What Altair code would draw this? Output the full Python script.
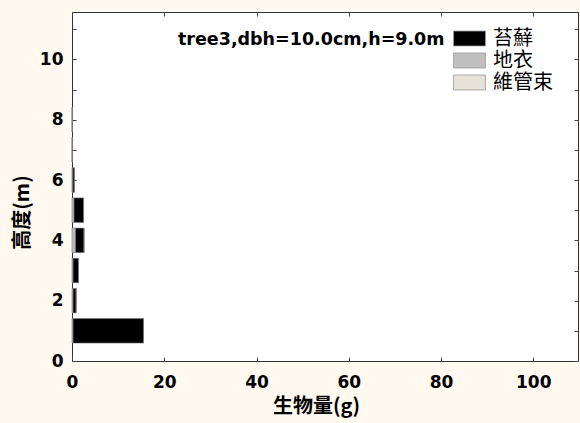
import altair as alt
import pandas as pd

# Biomass of epiphytes by height class along the stem of tree3
heights = [1, 2, 3, 4, 5, 6, 7, 8]
moss = [15.3, 0.7, 1.2, 1.9, 2.1, 0.4, 0.05, 0.05]       # 苔蘚
lichen = [0.2, 0.2, 0.2, 0.7, 0.4, 0.1, 0.05, 0.05]      # 地衣
vascular = [0.0, 0.0, 0.0, 0.0, 0.0, 0.0, 0.0, 0.0]      # 維管束

groups = ["苔蘚", "地衣", "維管束"]
stack_order = {"地衣": 0, "苔蘚": 1, "維管束": 2}
colors = ["#000000", "#c0c0c0", "#e6e2d8"]

x_ticks = [0, 20, 40, 60, 80, 100]
y_labels = [0, 2, 4, 6, 8, 10]
y_ticks = list(range(0, 12))

rows = []
for name, vals in zip(groups, [moss, lichen, vascular]):
    for h, v in zip(heights, vals):
        rows.append({"h": h, "group": name, "value": v, "ord": stack_order[name]})
df = pd.DataFrame(rows)

W, H = 506, 349
x_scale = alt.Scale(domain=[0, 109.7], nice=False, zero=True, padding=0)
y_scale = alt.Scale(domain=[0, 11.57], nice=False, padding=0)

tick_font = "DejaVu Sans"
cjk_font = "Noto Sans CJK TC"

legend = alt.Legend(
    title="tree3,dbh=10.0cm,h=9.0m",
    orient="none",
    legendX=106,
    legendY=15,
    titleOrient="left",
    titleAnchor="start",
    titleBaseline="line-top",
    titleLineHeight=26,
    titleFont=tick_font,
    titleFontSize=17.5,
    titleFontWeight="bold",
    titleColor="black",
    titleLimit=400,
    titlePadding=13,
    symbolType="M-1.45,-0.68H1.45V0.68H-1.45Z",
    symbolSize=484,
    symbolStrokeWidth=0.8,
    symbolStrokeColor="#999999",
    symbolOpacity=1,
    labelFont=cjk_font,
    labelFontSize=20,
    labelColor="black",
    labelOffset=12,
    rowPadding=0,
    padding=0,
)

base = alt.Chart(df)

bars = base.mark_bar(
    orient="horizontal", size=24.5, stroke="#777777", strokeWidth=0.6
).encode(
    x=alt.X(
        "value:Q",
        stack="zero",
        scale=x_scale,
        title="生物量(g)",
        axis=alt.Axis(
            values=x_ticks,
            tickSize=0,
            domain=False,
            grid=False,
            labelFlush=False,
            labelFont=tick_font,
            labelFontSize=17,
            labelFontWeight="bold",
            labelColor="black",
            labelPadding=13,
            titleFont=cjk_font,
            titleFontSize=20,
            titleFontWeight="bold",
            titleColor="black",
            titlePadding=6,
            titleX=244,
        ),
    ),
    y=alt.Y(
        "h:Q",
        scale=y_scale,
        title="高度(m)",
        axis=alt.Axis(
            values=y_labels,
            tickSize=0,
            domain=False,
            grid=False,
            labelFlush=False,
            labelFont=tick_font,
            labelFontSize=17,
            labelFontWeight="bold",
            labelColor="black",
            labelPadding=9,
            titleFont=cjk_font,
            titleFontSize=20,
            titleFontWeight="bold",
            titleColor="black",
            titlePadding=7,
            titleY=200,
        ),
    ),
    color=alt.Color(
        "group:N",
        scale=alt.Scale(domain=groups, range=colors),
        legend=legend,
    ),
    order=alt.Order("ord:Q"),
)


def tick_axis(orient, values):
    return alt.Axis(
        orient=orient,
        offset=-W if orient in ("left", "right") else -H,
        values=values,
        labels=False,
        domain=False,
        grid=False,
        title=None,
        tickSize=4,
        tickColor="#444444",
        tickWidth=1,
    )


# Inward tick marks on all four sides of the frame
ticks_a = base.mark_bar(orient="horizontal", opacity=0).encode(
    x=alt.X("value:Q", stack="zero", scale=x_scale, axis=tick_axis("top", x_ticks)),
    y=alt.Y("h:Q", scale=y_scale, axis=tick_axis("right", y_ticks)),
)
ticks_b = base.mark_bar(orient="horizontal", opacity=0).encode(
    x=alt.X("value:Q", stack="zero", scale=x_scale, axis=tick_axis("bottom", x_ticks)),
    y=alt.Y("h:Q", scale=y_scale, axis=tick_axis("left", y_ticks)),
)

chart = (
    alt.layer(bars, ticks_a, ticks_b)
    .resolve_axis(x="independent", y="independent")
    .properties(
        width=W,
        height=H,
        background="#fff9ef",
        padding={"left": 72, "top": 12, "right": 2, "bottom": 62},
        autosize=alt.AutoSizeParams(type="none"),
    )
    .configure_view(fill="white", stroke="#333333", strokeWidth=1)
)

chart.save("out.html", embed_options={"renderer": "svg", "actions": False})
